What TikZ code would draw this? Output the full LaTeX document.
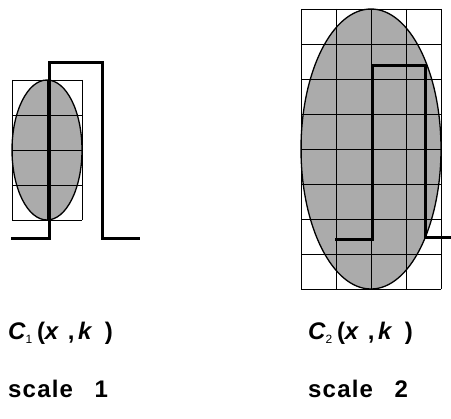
\documentclass[tikz,border=0pt]{standalone}
\usepackage{fontspec}
\setmainfont{Liberation Sans}
\newfontfamily\capfont[LetterSpace=5]{Liberation Sans}
\usetikzlibrary{positioning}

\begin{document}
\begin{tikzpicture}[
  x=1pt, y=-1pt,
  cell/.style={draw, line width=0.9pt},
  blob/.style={fill=black!33},
  rim/.style={draw, line width=1.3pt},
  pulse/.style={draw, line width=3pt, line cap=rect},
  caption/.style={anchor=base west, inner sep=0pt, font=\capfont\bfseries\fontsize{24}{28}\selectfont}
]
\useasboundingbox (0,0) rectangle (451,419);

% scale 1: 2 x 4 cells
\fill[blob] (47,150) ellipse [x radius=35, y radius=70];
\foreach \cx in {12,47,82} \draw[cell] (\cx,80) -- (\cx,220);
\foreach \cy in {80,115,150,185,220} \draw[cell] (12,\cy) -- (82,\cy);
\draw[rim] (47,150) ellipse [x radius=35, y radius=70];
\draw[pulse] (12,239) -- (49,239) -- (49,63) -- (102,63) -- (102,239) -- (138,239);

% scale 2: 4 x 8 cells
\fill[blob] (371,149) ellipse [x radius=70, y radius=140];
\foreach \cx in {301,336,371,406,441} \draw[cell] (\cx,9) -- (\cx,289);
\foreach \cy in {9,44,...,289} \draw[cell] (301,\cy) -- (441,\cy);
\draw[rim] (371,149) ellipse [x radius=70, y radius=140];
\draw[pulse] (336,240) -- (372,240) -- (372,66) -- (425,66) -- (425,238) -- (451,238);

% labels
\node[caption] (c1) at (8,340) {\itshape C\raisebox{-0.3ex}{\upshape\mdseries\fontsize{12}{12}\selectfont 1}\hspace{0.2em}\upshape(\itshape x\hspace{0.4em}\upshape,\hspace{0.15em}\itshape k\hspace{0.55em}\upshape)};
\node[caption] (c2) at (308,340) {\itshape C\raisebox{-0.3ex}{\upshape\mdseries\fontsize{12}{12}\selectfont 2}\hspace{0.2em}\upshape(\itshape x\hspace{0.4em}\upshape,\hspace{0.15em}\itshape k\hspace{0.55em}\upshape)};
\node[caption] (s1) at (8,398) {scale\hspace{0.9em}1};
\node[caption] (s2) at (308,398) {scale\hspace{0.9em}2};
\end{tikzpicture}
\end{document}
